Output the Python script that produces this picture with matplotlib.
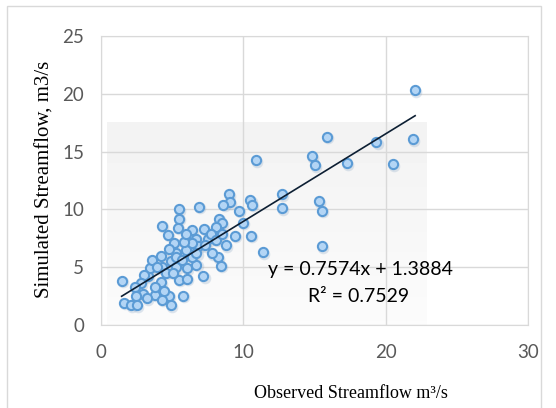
import numpy as np
import matplotlib
matplotlib.use("Agg")
import matplotlib.pyplot as plt
from matplotlib.patches import Rectangle

# Observed vs simulated streamflow (m3/s)
observed = [22.07, 15.9, 19.35, 21.9, 10.9, 14.8, 15.0, 17.3, 20.5, 12.7,
            12.7, 15.3, 15.5, 15.5, 11.35, 10.5, 10.6, 10.55, 9.0, 9.05,
            8.6, 9.7, 9.95, 9.4, 8.75, 8.3, 8.5, 8.05, 8.4, 8.2,
            7.8, 7.2, 6.7, 6.9, 7.25, 5.45, 5.5, 5.4, 4.3, 4.7,
            5.1, 6.25, 6.7, 6.0, 7.55, 5.3, 4.25, 4.3, 4.9, 5.3,
            6.05, 5.45, 6.05, 5.75, 4.75, 4.9, 4.45, 3.8, 4.2, 3.3,
            3.45, 3.05, 2.8, 2.95, 2.4, 1.45, 1.6, 2.1, 2.45, 2.55,
            3.2, 3.8, 4.3, 3.55, 3.95, 4.55, 5.05, 6.4, 6.8, 6.4,
            5.8, 4.8, 5.3, 5.7, 6.7, 7.3, 7.7, 8.05, 8.5, 6.4, 6.0]
simulated = [20.3, 16.3, 15.8, 16.05, 14.26, 14.6, 13.8, 14.0, 13.9, 11.3,
             10.1, 10.7, 9.9, 6.8, 6.3, 10.8, 10.4, 7.7, 11.3, 10.6,
             10.4, 9.9, 8.85, 7.7, 6.9, 9.2, 8.8, 8.5, 5.1, 5.85,
             6.2, 4.2, 5.2, 10.2, 8.3, 10.0, 9.2, 8.4, 8.6, 7.8,
             7.1, 7.9, 7.4, 6.5, 7.4, 6.2, 6.0, 5.0, 5.5, 5.0,
             4.9, 3.9, 4.0, 2.5, 2.5, 1.7, 2.9, 2.6, 3.7, 4.2,
             4.9, 4.3, 3.6, 2.7, 3.25, 3.8, 1.9, 1.7, 2.5, 1.7,
             2.3, 3.3, 2.2, 5.6, 5.0, 4.5, 4.5, 5.9, 6.8, 7.1,
             7.2, 6.6, 5.9, 5.6, 6.2, 6.9, 7.9, 7.35, 7.9, 8.2, 7.9]

# linear trendline as reported on the chart
slope, intercept = 0.7574, 1.3884
r2 = 0.7529

x_ticks = [0, 10, 20, 30]
y_ticks = [0, 5, 10, 15, 20, 25]

plt.rcParams['font.family'] = ['Lato', 'DejaVu Sans']

W, H = 556, 408
fig = plt.figure(figsize=(W / 100, H / 100), dpi=100)
fig.patches.append(Rectangle((7 / W, -0.1), 534 / W, 1.1 - 6 / H,
                             transform=fig.transFigure, fill=False,
                             edgecolor="#d9d9d9", linewidth=1.0))
ax = fig.add_axes([101 / W, 1 - 325 / H, 427 / W, 289 / H])

# faint shaded block behind the point cloud (copy artefact in the original)
grad = np.linspace(0.95, 0.985, 50).reshape(-1, 1)
ax.imshow(grad, cmap="gray", vmin=0, vmax=1, aspect="auto",
          extent=[0.45, 22.9, 0, 17.5], zorder=0.5)

x = np.array(observed)
y = np.array(simulated)
# soft shadow, then the markers
ax.scatter(x + 0.08, y - 0.12, s=70, color="#7f9fc0", alpha=0.25,
           linewidths=0, zorder=2)
ax.scatter(x, y, s=44, facecolor="#b3d5f5", edgecolor="#5b9bd5",
           linewidths=1.5, zorder=3)

xl = np.array([x.min(), x.max()])
ax.plot(xl, slope * xl + intercept, color="#0d1f33", linewidth=1.2, zorder=4)

fig.text(360 / W, 1 - 270 / H, f"y = {slope}x + {intercept}",
         ha="center", va="center", fontsize=14, color="black")
fig.text(359 / W, 1 - 297 / H, f"R² = {r2}",
         ha="center", va="center", fontsize=14, color="black")

ax.set_xlim(0, 30)
ax.set_ylim(0, 25)
ax.set_xticks(x_ticks)
ax.set_yticks(y_ticks)
ax.grid(True, color="#d9d9d9", linewidth=1.0, zorder=0)
ax.set_axisbelow(True)
for s in ax.spines.values():
    s.set_color("#d9d9d9")
ax.tick_params(length=0, labelsize=13.5, labelcolor="#595959")
ax.tick_params(axis="x", pad=14)
ax.tick_params(axis="y", pad=12)

fig.text(351 / W, 1 - 393 / H, "Observed Streamflow m³/s",
         family="Liberation Serif", fontsize=13, ha="center", va="center")
fig.text(45 / W, 1 - 179 / H, "Simulated Streamflow, m3/s",
         family="Liberation Serif", fontsize=15, rotation=90,
         ha="center", va="center")

fig.savefig("out.png", dpi=100)
